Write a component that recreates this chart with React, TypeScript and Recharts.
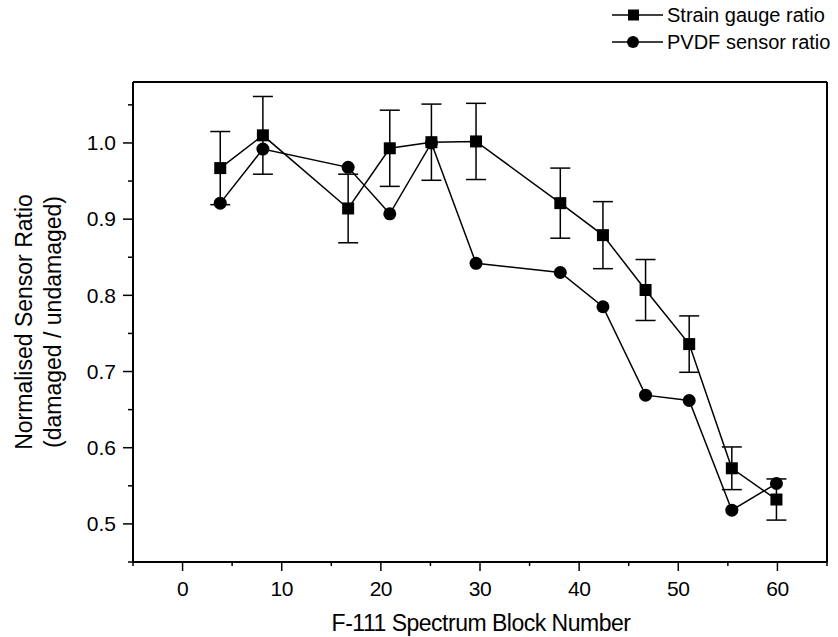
import React from "react";
import {
  LineChart,
  Line,
  XAxis,
  YAxis,
  ErrorBar,
  ReferenceLine,
  Label,
} from "recharts";

// F-111 spectrum block at which each measurement was taken
const blockNumbers = [3.8, 8.1, 16.7, 20.9, 25.1, 29.6, 38.1, 42.4, 46.7, 51.1, 55.4, 59.9];
const strainGaugeRatio = [0.967, 1.01, 0.914, 0.993, 1.001, 1.002, 0.921, 0.879, 0.807, 0.736, 0.573, 0.532];
const strainGaugeError = [0.048, 0.051, 0.045, 0.05, 0.05, 0.05, 0.046, 0.044, 0.04, 0.037, 0.028, 0.027];
const pvdfSensorRatio = [0.921, 0.992, 0.968, 0.907, 1.0, 0.842, 0.83, 0.785, 0.669, 0.662, 0.518, 0.553];

const xMajorTicks = [0, 10, 20, 30, 40, 50, 60];
const xAllTicks = [-5, 0, 5, 10, 15, 20, 25, 30, 35, 40, 45, 50, 55, 60, 65];
const yMajorTicks = [0.5, 0.6, 0.7, 0.8, 0.9, 1.0];
const yAllTicks = [0.45, 0.5, 0.55, 0.6, 0.65, 0.7, 0.75, 0.8, 0.85, 0.9, 0.95, 1.0, 1.05];

const X_DOMAIN: [number, number] = [-5, 65];
const Y_DOMAIN: [number, number] = [0.45, 1.08];

const FONT = "'Liberation Sans', Arial, Helvetica, sans-serif";

const data = blockNumbers.map((x, i) => ({
  x,
  sg: strainGaugeRatio[i],
  sgErr: strainGaugeError[i],
  pvdf: pvdfSensorRatio[i],
}));

const isMajor = (list: number[], v: number) => list.some((m) => Math.abs(m - v) < 1e-6);

function XTick(props: any) {
  const { x, y, payload } = props;
  const major = isMajor(xMajorTicks, payload.value);
  return (
    <g>
      <line x1={x} x2={x} y1={y} y2={y + (major ? 9 : 4)} stroke="#000" strokeWidth={1.5} />
      {major && (
        <text x={x} y={y + 34} textAnchor="middle" fontSize={21} fontFamily={FONT} fill="#000" letterSpacing={-0.5}>
          {payload.value}
        </text>
      )}
    </g>
  );
}

function YTick(props: any) {
  const { x, y, payload } = props;
  const major = isMajor(yMajorTicks, payload.value);
  return (
    <g>
      <line x1={x - (major ? 10 : 5)} x2={x} y1={y} y2={y} stroke="#000" strokeWidth={1.5} />
      {major && (
        <text x={x - 17} y={y} dy="0.35em" textAnchor="end" fontSize={21} fontFamily={FONT} fill="#000">
          {payload.value.toFixed(1)}
        </text>
      )}
    </g>
  );
}

const SquareDot = (p: any) => (
  <rect key={`sq-${p.index}`} x={p.cx - 6} y={p.cy - 6} width={12} height={12} fill="#000" />
);
const CircleDot = (p: any) => (
  <circle key={`ci-${p.index}`} cx={p.cx} cy={p.cy} r={6.5} fill="#000" />
);

function Legend() {
  return (
    <svg width={838} height={60} style={{ position: "absolute", left: 0, top: 0 }}>
      <g fontFamily={FONT} fontSize={20} fill="#000">
        <line x1={612} x2={663} y1={15} y2={15} stroke="#000" strokeWidth={1.5} />
        <rect x={628} y={9.5} width={11} height={11} fill="#000" />
        <text x={667} y={22}>Strain gauge ratio</text>
        <line x1={612} x2={663} y1={42} y2={42} stroke="#000" strokeWidth={1.5} />
        <circle cx={633} cy={42} r={6} fill="#000" />
        <text x={667} y={49}>PVDF sensor ratio</text>
      </g>
    </svg>
  );
}

export default function App() {
  return (
    <div style={{ position: "absolute", left: 0, top: 0, width: 838, height: 637, background: "#fff" }}>
      <LineChart width={838} height={637} data={data} margin={{ top: 82, right: 11, bottom: 0, left: 0 }}>
        <XAxis
          type="number"
          dataKey="x"
          domain={X_DOMAIN}
          ticks={xAllTicks}
          interval={0}
          height={75}
          tickSize={0}
          tickMargin={0}
          tickLine={false}
          tick={<XTick />}
          axisLine={{ stroke: "#000", strokeWidth: 2 }}
        >
          <Label
            content={() => (
              <text x={481} y={631} textAnchor="middle" fontSize={23} fontFamily={FONT} fill="#000" letterSpacing={-0.5}>
                F-111 Spectrum Block Number
              </text>
            )}
          />
        </XAxis>
        <YAxis
          type="number"
          domain={Y_DOMAIN}
          ticks={yAllTicks}
          interval={0}
          width={133}
          tickSize={0}
          tickMargin={0}
          tickLine={false}
          tick={<YTick />}
          axisLine={{ stroke: "#000", strokeWidth: 2 }}
        >
          <Label
            content={() => (
              <g fontFamily={FONT} fontSize={23} fill="#000" textAnchor="middle">
                <text transform="rotate(-90)" x={-322} y={32}>Normalised Sensor Ratio</text>
                <text transform="rotate(-90)" x={-322} y={61}>(damaged / undamaged)</text>
              </g>
            )}
          />
        </YAxis>
        <ReferenceLine y={Y_DOMAIN[1]} stroke="#000" strokeWidth={2} />
        <ReferenceLine x={X_DOMAIN[1]} stroke="#000" strokeWidth={2} />
        <Line
          dataKey="pvdf"
          stroke="#000"
          strokeWidth={1.5}
          dot={CircleDot}
          activeDot={false}
          isAnimationActive={false}
        />
        <Line
          dataKey="sg"
          stroke="#000"
          strokeWidth={1.5}
          dot={SquareDot}
          activeDot={false}
          isAnimationActive={false}
        >
          <ErrorBar dataKey="sgErr" direction="y" width={10} stroke="#000" strokeWidth={1.5} isAnimationActive={false} />
        </Line>
      </LineChart>
      <Legend />
    </div>
  );
}
